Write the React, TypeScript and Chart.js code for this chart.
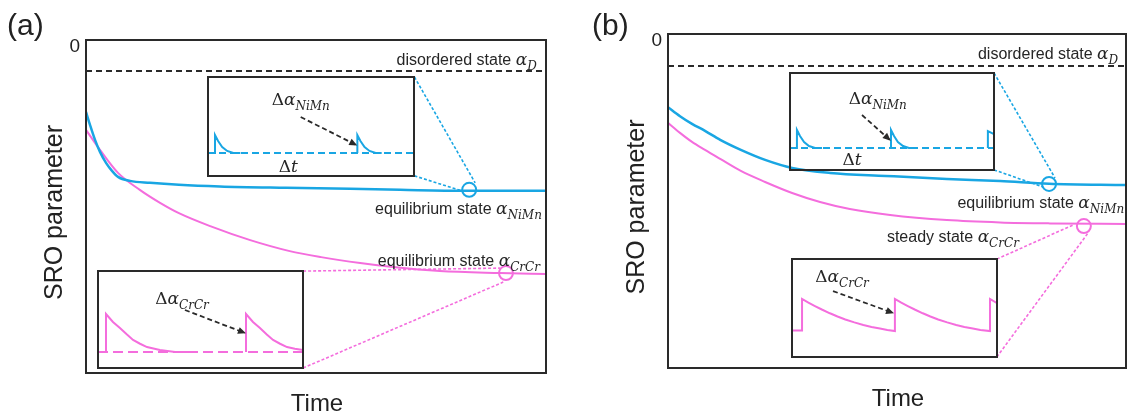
import React, { useEffect, useRef } from 'react';
import { Chart, registerables } from 'chart.js';

Chart.register(...registerables);

const BLUE = '#19a6e3';
const PINK = '#f46ddd';
const INK = '#2a2a2a';
const SANS = '"Liberation Sans", Arial, sans-serif';
const SERIF = '"DejaVu Serif", serif';

// ---- main axes: time 0..100, SRO parameter -10..0 (0 at the top) ----
const sroTicks = [0];

// panel (a)
const timeNiMnA = [0, 0.87, 1.96, 3.04, 4.35, 5.65, 6.96, 9.57, 13.9, 20.2, 29.1, 43.5, 57.4, 68.3, 82.2, 100];
const sroNiMnA = [-2.16, -2.55, -3.0, -3.36, -3.69, -3.93, -4.11, -4.23, -4.29, -4.35, -4.4, -4.44, -4.47, -4.5, -4.53, -4.53];
const timeCrCrA = [0, 3.04, 6.96, 11.7, 16.1, 20.2, 27.0, 35.7, 44.3, 51.1, 59.6, 66.7, 76.9, 90, 100];
const sroCrCrA = [-2.7, -3.3, -3.99, -4.5, -4.89, -5.2, -5.59, -6.01, -6.34, -6.52, -6.7, -6.82, -6.94, -7.0, -7.03];
const disorderedA = -0.93;

// panel (b)
const timeNiMnB = [0, 2.62, 5.24, 8.08, 11.4, 15.9, 21.2, 27.1, 35.4, 47.6, 60.9, 72.5, 83.2, 100];
const sroNiMnB = [-2.19, -2.46, -2.69, -2.9, -3.17, -3.47, -3.77, -4.01, -4.16, -4.25, -4.34, -4.4, -4.48, -4.52];
const timeCrCrB = [0, 2.62, 5.24, 8.08, 11.4, 15.9, 21.2, 27.1, 33.2, 39.7, 48.5, 60.9, 72.5, 83.4, 100];
const sroCrCrB = [-2.66, -2.96, -3.23, -3.47, -3.74, -4.1, -4.43, -4.76, -5.03, -5.24, -5.42, -5.57, -5.64, -5.67, -5.69];
const disorderedB = -0.96;

// ---- inset traces: inset axes run 0..100 both ways ----
const pulseNiMnAx = [0, 3.4, 3.4, 4.9, 6.9, 9.3, 12.3, 15.7, 40, 72.5, 72.5, 74.0, 76.0, 78.4, 81.4, 84.3];
const pulseNiMnAy = [23.2, 23.2, 41.4, 35.4, 29.3, 25.3, 23.2, 23.2, null, 23.2, 41.4, 35.4, 29.3, 25.3, 23.2, 23.2];
const baseNiMnA = 23.2;

const pulseCrCrAx = [0, 3.9, 3.9, 7.3, 10.7, 14.0, 17.1, 20.5, 23.9, 30.2, 37.6, 44.9, 58, 72.2, 72.2, 75.6, 79.0, 82.2, 85.4, 88.8, 92.2, 96.0, 100];
const pulseCrCrAy = [16.5, 16.5, 55.7, 47.4, 41.2, 34.7, 28.9, 25.0, 21.6, 18.6, 16.5, 16.5, null, 16.5, 55.7, 47.4, 41.2, 34.7, 28.9, 25.0, 21.6, 19.8, 18.6];
const baseCrCrA = 16.5;

const pulseNiMnBx = [0, 3.4, 3.4, 4.9, 6.9, 9.3, 12.3, 15.7, 30, 49.5, 49.5, 51.0, 52.9, 55.4, 58.3, 61.8, 80, 97.0, 97.0, 100];
const pulseNiMnBy = [22.7, 22.7, 41.2, 35.0, 28.9, 24.7, 22.7, 22.7, null, 22.7, 41.2, 35.0, 28.9, 24.7, 22.7, 22.7, null, 22.7, 40.2, 37.0];
const baseNiMnB = 22.7;

const sawCrCrBx = [0, 4.9, 4.9, 8.0, 11.2, 14.8, 18.5, 22.2, 26.0, 30.4, 34.8, 38.8, 42.9, 46.5, 50.2, 50.2, 53.3, 56.5, 60.1, 63.8, 67.5, 71.3, 75.7, 80.1, 84.1, 88.2, 91.9, 96.6, 96.6, 100];
const sawCrCrBy = [27.0, 27.0, 59.2, 55.4, 52.0, 48.2, 44.6, 41.3, 38.3, 35.3, 32.7, 30.7, 29.0, 27.6, 26.5, 59.2, 55.4, 52.0, 48.2, 44.6, 41.3, 38.3, 35.3, 32.7, 30.7, 29.0, 27.6, 26.5, 59.2, 55.0];

// dashed arrows inside the insets (start, end)
const arrowNiMnAx = [45, 72];
const arrowNiMnAy = [59.6, 31.3];
const arrowCrCrAx = [42.4, 71.7];
const arrowCrCrAy = [59.8, 36.1];
const arrowNiMnBx = [35.3, 49];
const arrowNiMnBy = [56.7, 30.9];
const arrowCrCrBx = [20, 49.3];
const arrowCrCrBy = [67.3, 44.9];

type Pt = { x: number; y: number | null };
const pts = (xs: number[], ys: (number | null)[]): Pt[] => xs.map((x, i) => ({ x, y: ys[i] }));

type Run = { t: string; k: 'sans' | 'it' | 'up' | 'sub' };
type Label = { runs: Run[]; x: number; y: number; align: 'left' | 'right' | 'center' };
type Box = { x0: number; x1: number; y0: number; y1: number };

const alpha = (sub: string): Run[] => [{ t: 'α', k: 'it' }, { t: sub, k: 'sub' }];
const sans = (t: string): Run => ({ t, k: 'sans' });
const delta: Run = { t: 'Δ', k: 'up' };

function runFont(k: Run['k'], size: number) {
  if (k === 'sans') return `${size}px ${SANS}`;
  if (k === 'it') return `italic ${size + 1}px ${SERIF}`;
  if (k === 'up') return `${size + 1}px ${SERIF}`;
  return `italic ${Math.round(size * 0.78)}px ${SERIF}`;
}

function drawRuns(ctx: CanvasRenderingContext2D, runs: Run[], x: number, y: number, align: Label['align'], size: number) {
  ctx.save();
  ctx.textBaseline = 'alphabetic';
  ctx.textAlign = 'left';
  ctx.fillStyle = '#262626';
  const widths = runs.map((r) => {
    ctx.font = runFont(r.k, size);
    return ctx.measureText(r.t).width;
  });
  const total = widths.reduce((s, w) => s + w, 0);
  let cx = align === 'left' ? x : align === 'right' ? x - total : x - total / 2;
  runs.forEach((r, i) => {
    ctx.font = runFont(r.k, size);
    ctx.fillText(r.t, cx, r.k === 'sub' ? y + size * 0.3 : y);
    cx += widths[i];
  });
  ctx.restore();
}

type Inset = {
  box: Box;
  color: string;
  base: number | null;
  dash: number[];
  tx: number[];
  ty: (number | null)[];
  ax: number[];
  ay: number[];
  labels: Label[];
  link: [number, number, number, number];
};

type PanelCfg = {
  left: number;
  tag: string;
  tagX: number;
  pad: { left: number; right: number; top: number; bottom: number };
  disordered: number;
  timeNiMn: number[];
  sroNiMn: number[];
  timeCrCr: number[];
  sroCrCr: number[];
  markNiMn: { x: number; y: number };
  markCrCr: { x: number; y: number };
  labels: Label[];
  insets: [Inset, Inset];
};

const panels: PanelCfg[] = [
  {
    left: 0,
    tag: '(a)',
    tagX: 7,
    pad: { left: 86, right: 18, top: 40, bottom: 42 },
    disordered: disorderedA,
    timeNiMn: timeNiMnA,
    sroNiMn: sroNiMnA,
    timeCrCr: timeCrCrA,
    sroCrCr: sroCrCrA,
    markNiMn: { x: 83.3, y: -4.5 },
    markCrCr: { x: 91.3, y: -7.0 },
    labels: [
      { runs: [sans('disordered state '), ...alpha('D')], x: 98.0, y: -0.75, align: 'right' },
      { runs: [sans('equilibrium state '), ...alpha('NiMn')], x: 99.1, y: -5.23, align: 'right' },
      { runs: [sans('equilibrium state '), ...alpha('CrCr')], x: 98.7, y: -6.79, align: 'right' },
    ],
    insets: [
      {
        box: { x0: 26.5, x1: 71.4, y0: -4.08, y1: -1.11 },
        color: BLUE,
        base: baseNiMnA,
        dash: [7, 4],
        tx: pulseNiMnAx,
        ty: pulseNiMnAy,
        ax: arrowNiMnAx,
        ay: arrowNiMnAy,
        labels: [
          { runs: [delta, ...alpha('NiMn')], x: 45, y: 71.7, align: 'center' },
          { runs: [delta, { t: 't', k: 'it' }], x: 39, y: 4, align: 'center' },
        ],
        link: [84.6, -4.29, 81.7, -4.53],
      },
      {
        box: { x0: 2.6, x1: 47.2, y0: -9.85, y1: -6.94 },
        color: PINK,
        base: baseCrCrA,
        dash: [10, 5],
        tx: pulseCrCrAx,
        ty: pulseCrCrAy,
        ax: arrowCrCrAx,
        ay: arrowCrCrAy,
        labels: [{ runs: [delta, ...alpha('CrCr')], x: 41, y: 66, align: 'center' }],
        link: [90.0, -6.85, 90.7, -7.27],
      },
    ],
  },
  {
    left: 564,
    tag: '(b)',
    tagX: 28,
    pad: { left: 104, right: 2, top: 34, bottom: 47 },
    disordered: disorderedB,
    timeNiMn: timeNiMnB,
    sroNiMn: sroNiMnB,
    timeCrCr: timeCrCrB,
    sroCrCr: sroCrCrB,
    markNiMn: { x: 83.2, y: -4.49 },
    markCrCr: { x: 90.8, y: -5.75 },
    labels: [
      { runs: [sans('disordered state '), ...alpha('D')], x: 98.3, y: -0.75, align: 'right' },
      { runs: [sans('equilibrium state '), ...alpha('NiMn')], x: 99.6, y: -5.21, align: 'right' },
      { runs: [sans('steady state '), ...alpha('CrCr')], x: 47.8, y: -6.23, align: 'left' },
    ],
    insets: [
      {
        box: { x0: 26.6, x1: 71.2, y0: -4.07, y1: -1.17 },
        color: BLUE,
        base: baseNiMnB,
        dash: [7, 4],
        tx: pulseNiMnBx,
        ty: pulseNiMnBy,
        ax: arrowNiMnBx,
        ay: arrowNiMnBy,
        labels: [
          { runs: [delta, ...alpha('NiMn')], x: 43, y: 68, align: 'center' },
          { runs: [delta, { t: 't', k: 'it' }], x: 30.4, y: 5.2, align: 'center' },
        ],
        link: [84.5, -4.31, 81.9, -4.58],
      },
      {
        box: { x0: 27.1, x1: 71.8, y0: -9.67, y1: -6.74 },
        color: PINK,
        base: null,
        dash: [],
        tx: sawCrCrBx,
        ty: sawCrCrBy,
        ax: arrowCrCrBx,
        ay: arrowCrCrBy,
        labels: [{ runs: [delta, ...alpha('CrCr')], x: 24.4, y: 76.5, align: 'center' }],
        link: [88.4, -5.72, 91.7, -5.96],
      },
    ],
  },
];

// frame, tick label, axis titles, panel tag and state annotations
function mainDecor(P: PanelCfg) {
  return {
    id: 'mainDecor',
    afterDatasetsDraw(chart: any) {
      const { ctx, chartArea: a, scales } = chart;
      ctx.save();
      ctx.strokeStyle = INK;
      ctx.lineWidth = 2;
      ctx.strokeRect(a.left, a.top, a.right - a.left, a.bottom - a.top);

      ctx.fillStyle = '#222';
      ctx.font = `30px ${SANS}`;
      ctx.textAlign = 'left';
      ctx.textBaseline = 'alphabetic';
      ctx.fillText(P.tag, P.tagX, 35);

      ctx.font = `19px ${SANS}`;
      ctx.textAlign = 'right';
      ctx.textBaseline = 'middle';
      sroTicks.forEach((v) => ctx.fillText(String(v), a.left - 6, scales.y.getPixelForValue(v) + 7));

      ctx.font = `24px ${SANS}`;
      ctx.textAlign = 'center';
      ctx.textBaseline = 'alphabetic';
      ctx.fillText('Time', (a.left + a.right) / 2 + 1, a.bottom + 38);

      ctx.save();
      ctx.translate(a.left - 31, (a.top + a.bottom) / 2 + 6);
      ctx.rotate(-Math.PI / 2);
      ctx.font = `25px ${SANS}`;
      ctx.textBaseline = 'middle';
      ctx.fillText('SRO parameter', 0, 0);
      ctx.restore();

      P.labels.forEach((l) =>
        drawRuns(ctx, l.runs, scales.x.getPixelForValue(l.x), scales.y.getPixelForValue(l.y), l.align, 16)
      );
      ctx.restore();
    },
  };
}

// inset border, labels and the arrowhead
function insetDecor(ins: Inset) {
  return {
    id: 'insetDecor',
    afterDatasetsDraw(chart: any) {
      const { ctx, chartArea: a, scales } = chart;
      ctx.save();
      ctx.strokeStyle = INK;
      ctx.lineWidth = 2;
      ctx.strokeRect(a.left, a.top, a.right - a.left, a.bottom - a.top);
      ins.labels.forEach((l) =>
        drawRuns(ctx, l.runs, scales.x.getPixelForValue(l.x), scales.y.getPixelForValue(l.y), l.align, 16)
      );
      const meta = chart.getDatasetMeta(chart.data.datasets.length - 1);
      const p0 = meta.data[0];
      const p1 = meta.data[1];
      const ang = Math.atan2(p1.y - p0.y, p1.x - p0.x);
      ctx.translate(p1.x, p1.y);
      ctx.rotate(ang);
      ctx.fillStyle = INK;
      ctx.beginPath();
      ctx.moveTo(1, 0);
      ctx.lineTo(-7, -3.5);
      ctx.lineTo(-7, 3.5);
      ctx.closePath();
      ctx.fill();
      ctx.restore();
    },
  };
}

const PAD = 3;

function buildMain(cv: HTMLCanvasElement, P: PanelCfg) {
  const [b1, b2] = P.insets;
  const link = (x0: number, y0: number, x1: number, y1: number, color: string) => ({
    data: [{ x: x0, y: y0 }, { x: x1, y: y1 }],
    borderColor: color,
    borderWidth: 1.6,
    borderDash: [3, 2],
  });
  const mark = (p: { x: number; y: number }, color: string) => ({
    data: [p],
    showLine: false,
    pointRadius: 7,
    pointBorderWidth: 2,
    borderColor: color,
    pointBorderColor: color,
    pointBackgroundColor: 'rgba(0,0,0,0)',
  });
  return new Chart(cv, {
    type: 'line',
    data: {
      datasets: [
        { data: pts([0, 100], [P.disordered, P.disordered]), borderColor: INK, borderWidth: 2, borderDash: [6, 4] },
        { data: pts(P.timeNiMn, P.sroNiMn), borderColor: BLUE, borderWidth: 2.5, cubicInterpolationMode: 'monotone' },
        { data: pts(P.timeCrCr, P.sroCrCr), borderColor: PINK, borderWidth: 2, cubicInterpolationMode: 'monotone' },
        link(b1.box.x1, b1.box.y1, b1.link[0], b1.link[1], BLUE),
        link(b1.box.x1, b1.box.y0, b1.link[2], b1.link[3], BLUE),
        link(b2.box.x1, b2.box.y1, b2.link[0], b2.link[1], PINK),
        link(b2.box.x1, b2.box.y0, b2.link[2], b2.link[3], PINK),
        mark(P.markNiMn, BLUE),
        mark(P.markCrCr, PINK),
      ] as any,
    },
    options: {
      animation: false,
      responsive: false,
      events: [],
      layout: { padding: P.pad, autoPadding: false },
      scales: {
        x: { type: 'linear', min: 0, max: 100, display: false },
        y: { type: 'linear', min: -10, max: 0, display: false },
      },
      plugins: { legend: { display: false }, tooltip: { enabled: false } },
      elements: { point: { radius: 0 } },
    },
    plugins: [mainDecor(P)],
  });
}

function buildInset(cv: HTMLCanvasElement, main: Chart, ins: Inset) {
  const xs: any = main.scales.x;
  const ys: any = main.scales.y;
  const l = Math.round(xs.getPixelForValue(ins.box.x0));
  const r = Math.round(xs.getPixelForValue(ins.box.x1));
  const t = Math.round(ys.getPixelForValue(ins.box.y1));
  const b = Math.round(ys.getPixelForValue(ins.box.y0));
  cv.width = r - l + 2 * PAD;
  cv.height = b - t + 2 * PAD;
  cv.style.left = `${l - PAD}px`;
  cv.style.top = `${t - PAD}px`;
  cv.style.width = `${cv.width}px`;
  cv.style.height = `${cv.height}px`;
  const datasets: any[] = [];
  if (ins.base !== null) {
    datasets.push({ data: pts([0, 100], [ins.base, ins.base]), borderColor: ins.color, borderWidth: 2, borderDash: ins.dash });
  }
  datasets.push({ data: pts(ins.tx, ins.ty), borderColor: ins.color, borderWidth: 2, spanGaps: false });
  datasets.push({ data: pts(ins.ax, ins.ay), borderColor: INK, borderWidth: 1.8, borderDash: [5, 3] });
  return new Chart(cv, {
    type: 'line',
    data: { datasets },
    options: {
      animation: false,
      responsive: false,
      events: [],
      layout: { padding: PAD, autoPadding: false },
      scales: {
        x: { type: 'linear', min: 0, max: 100, display: false },
        y: { type: 'linear', min: 0, max: 100, display: false },
      },
      plugins: { legend: { display: false }, tooltip: { enabled: false } },
      elements: { point: { radius: 0 }, line: { tension: 0 } },
    },
    plugins: [insetDecor(ins)],
  });
}

function Panel({ P }: { P: PanelCfg }) {
  const mainRef = useRef<HTMLCanvasElement>(null);
  const in1Ref = useRef<HTMLCanvasElement>(null);
  const in2Ref = useRef<HTMLCanvasElement>(null);

  useEffect(() => {
    const main = buildMain(mainRef.current!, P);
    const i1 = buildInset(in1Ref.current!, main, P.insets[0]);
    const i2 = buildInset(in2Ref.current!, main, P.insets[1]);
    return () => {
      i2.destroy();
      i1.destroy();
      main.destroy();
    };
  }, [P]);

  return (
    <div style={{ position: 'absolute', left: P.left, top: 0, width: 564, height: 415 }}>
      <canvas ref={mainRef} width={564} height={415} style={{ position: 'absolute', left: 0, top: 0 }} />
      <canvas ref={in1Ref} style={{ position: 'absolute' }} />
      <canvas ref={in2Ref} style={{ position: 'absolute' }} />
    </div>
  );
}

export default function App() {
  return (
    <div style={{ position: 'absolute', left: 0, top: 0, width: 1128, height: 415, background: '#fff' }}>
      {panels.map((P) => (
        <Panel key={P.tag} P={P} />
      ))}
    </div>
  );
}
